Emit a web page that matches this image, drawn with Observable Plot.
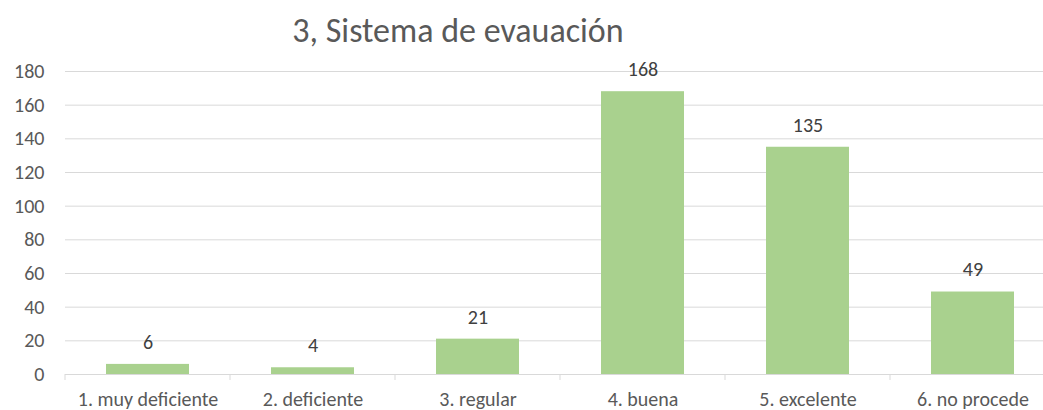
<!DOCTYPE html>
<html><head><meta charset="utf-8">
<script src="https://cdn.jsdelivr.net/npm/d3@7"></script>
<script src="https://cdn.jsdelivr.net/npm/@observablehq/plot@0.6"></script>
<style>body{margin:0;background:#fff;} svg{display:block;}</style>
</head><body><div id="chart"></div>
<script>
const categories = ["1. muy deficiente","2. deficiente","3. regular","4. buena","5. excelente","6. no procede"];
const values = [6, 4, 21, 168, 135, 49];
const yTicks = [0,20,40,60,80,100,120,140,160,180];
const title = "3, Sistema de evauación";

const data = categories.map((c,i)=>({cat:c, value:values[i]}));
const font = "Carlito, Lato, 'Noto Sans', sans-serif";
const W = 1043, H = 410;

const chart = Plot.plot({
  width: W, height: H,
  marginLeft: 65, marginRight: 0, marginTop: 71, marginBottom: 36,
  style: {fontFamily: font, fontSize: "20px", color: "#595959", background: "#fff", overflow: "hidden"},
  x: {domain: categories, range: [65, 1055], paddingInner: 0.5, paddingOuter: 0.25, align: 0.5},
  y: {domain: [0,180]},
  marks: [
    Plot.ruleY(yTicks, {stroke: "#D9D9D9", strokeWidth: 1}),
    Plot.barY(data, {x: "cat", y: "value", fill: "#A9D18E"}),
    Plot.ruleY([0], {stroke: "#D9D9D9", strokeWidth: 1}),
    Plot.text(data, {x: "cat", y: "value", text: d => String(d.value), dy: -22, fill: "#404040", fontSize: 20}),
    Plot.axisY({ticks: yTicks, tickSize: 0, tickPadding: 21, fill: "#595959", fontSize: 20, label: null}),
    Plot.axisX({tickSize: 0, tickPadding: 17, fill: "#595959", fontSize: 20, label: null})
  ]
});

const svg = d3.select(chart);
const xs = chart.scale("x");
const ys = chart.scale("y");
const y0 = ys.apply(0);
const step = xs.step;
const bounds = categories.map(c => xs.apply(c) + xs.bandwidth/2 - step/2);
svg.append("g").selectAll("line").data(bounds).join("line")
  .attr("x1", d=>d).attr("x2", d=>d).attr("y1", y0).attr("y2", y0+6)
  .attr("stroke", "#D9D9D9");
svg.append("text").text(title)
  .attr("x", 458).attr("y", 42).attr("text-anchor","middle")
  .attr("font-family", font).attr("font-size", 34).attr("fill", "#595959");
document.getElementById("chart").appendChild(chart);
</script></body></html>
